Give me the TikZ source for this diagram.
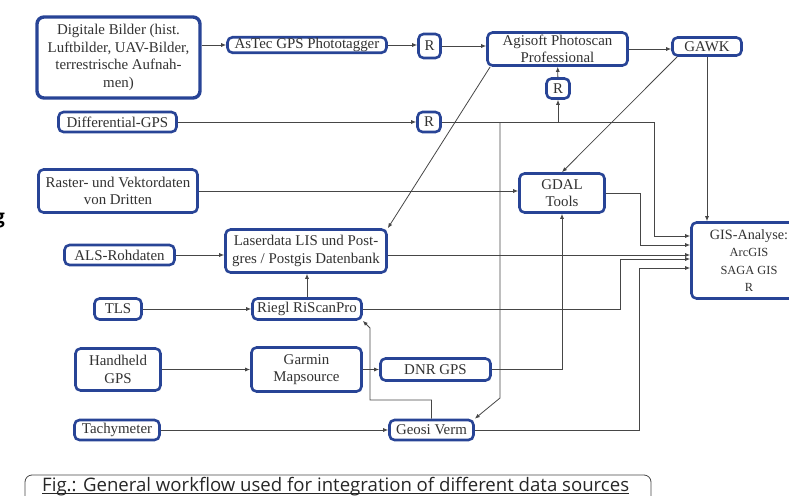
\documentclass[tikz,border=0pt]{standalone}
\usepackage{fontspec}
\setmainfont{Liberation Serif}
\newfontfamily\capfont{Open Sans}
\usetikzlibrary{arrows.meta}

\definecolor{boxblue}{RGB}{40,68,150}
\definecolor{linegray}{RGB}{70,70,70}
\definecolor{textgray}{RGB}{50,50,50}

\begin{document}
\begin{tikzpicture}[x=1pt, y=-1pt,
	box/.style={draw=boxblue, line width=2.6pt, rounded corners=5pt, fill=white,
		text=textgray, align=center, inner sep=0pt,
		font=\fontsize{14.9}{17.5}\selectfont},
	link/.style={draw=linegray, line width=0.8pt, -{Latex[length=5pt,width=4pt]}},
	wire/.style={draw=linegray, line width=0.8pt}]

	\useasboundingbox (0,0) rectangle (789,495);

	% boxes
	\node[box, line width=3.4pt, rounded corners=7pt, minimum width=163, minimum height=81] (1) at (118.5,57.5)
		{Digitale Bilder (hist.\\ Luftbilder, UAV-Bilder,\\ terrestrische Aufnah-\\ men)};
	\node[box, minimum width=159, minimum height=15.5] (2)  at (307,45)     {AsTec GPS Phototagger};
	\node[box, minimum width=22,  minimum height=24]   (3)  at (429.5,46)   {R};
	\node[box, minimum width=140, minimum height=33]   (4)  at (557.5,49)   {Agisoft Photoscan\\ Professional};
	\node[box, minimum width=69,  minimum height=18]   (5)  at (707,46.5)   {GAWK};
	\node[box, minimum width=23,  minimum height=20]   (6)  at (558,88.5)   {R};
	\node[box, minimum width=23,  minimum height=20]   (7)  at (429,122)    {R};
	\node[box, minimum width=118, minimum height=20]   (8)  at (117.5,122)  {Differential-GPS};
	\node[box, minimum width=159, minimum height=43]   (9)  at (118,191)    {Raster- und Vektordaten\\ von Dritten};
	\node[box, minimum width=85,  minimum height=39]   (10) at (562,193)    {GDAL\\ Tools};
	\node[box, minimum width=115, minimum height=76, font=\fontsize{14.2}{17.5}\selectfont] (11) at (749,260.5)
		{GIS-Analyse:\\ {\fontsize{12.4}{15.5}\selectfont ArcGIS}\\ {\fontsize{12.4}{15.5}\selectfont SAGA GIS}\\ {\fontsize{12.4}{15.5}\selectfont R}};
	\node[box, minimum width=161, minimum height=43]   (12) at (306,251)    {Laserdata LIS und Post-\\ gres / Postgis Datenbank};
	\node[box, minimum width=110, minimum height=20]   (13) at (119.5,255)  {ALS-Rohdaten};
	\node[box, minimum width=109, minimum height=21]   (14) at (307,309)    {Riegl RiScanPro};
	\node[box, minimum width=47,  minimum height=21]   (15) at (118,309)    {TLS};
	\node[box, minimum width=85,  minimum height=42]   (16) at (118,369.5)  {Handheld\\ GPS};
	\node[box, minimum width=110, minimum height=44]   (17) at (306.5,369.5) {Garmin\\ Mapsource};
	\node[box, minimum width=110, minimum height=22]   (18) at (435.5,369.5) {DNR GPS};
	\node[box, minimum width=85,  minimum height=20]   (19) at (117,430)    {Tachymeter};
	\node[box, minimum width=84,  minimum height=20]   (20) at (431.5,430)  {Geosi Verm};

	% bend points
	\coordinate (c1) at (654,236);
	\coordinate (c2) at (500,122);
	\coordinate (c3) at (500,398);
	\coordinate (c4) at (640,245);
	\coordinate (c5) at (620,259);
	\coordinate (c6) at (370,400);
	\coordinate (c7) at (370,328);
	\coordinate (c8) at (639,268);

	% top row
	\draw[link] (1.east |- 2.west) -- (2.west);
	\draw[link] (2.east) -- (2.east -| 3.west);
	\draw[link] (3.east) -- (3.east -| 4.west);
	\draw[link] (4.east) -- (4.east -| 5.west);
	\draw[link] (6) -- (4);
	\draw[link] ([xshift=6pt]5.south west) -- (10.north);
	\draw[link] (5.south) -- (5.south |- 11.north);
	\draw[link] ([xshift=4pt]4.south west) -- (12.north east);

	% differential gps
	\draw[link] (8.east) -- (8.east -| 7.west);
	\draw[link] (7.east) -| (c1) -- (c1 -| 11.west);
	\draw[link] (6.south |- 7.east) -- (6.south);
	\draw[link] (c2) -- (c3) -- (20.north east);

	% middle
	\draw[link] (9.east) -- (9.east -| 10.west);
	\draw[link] (10.east) -| (c4) -- (c4 -| 11.west);
	\draw[link] (13.east) -- (13.east -| 12.west);
	\draw[link] (13.east -| 12.east) -- (13.east -| 11.west);
	\draw[link] (14.north) -- (14.north |- 12.south);
	\draw[link] (15.east) -- (15.east -| 14.west);
	\draw[link] (14.east) -| (c5) -- (c5 -| 11.west);

	% bottom
	\draw[link] (16.east) -- (16.east -| 17.west);
	\draw[link] (17.east) -- (17.east -| 18.west);
	\draw[link] (18.east) -| (10.south);
	\draw[link] (19.east) -- (19.east -| 20.west);
	\draw[link] (20.north) |- (c6) -- (c7) -- (14.south east);
	\draw[link] (20.east) -| (c8) -- (c8 -| 11.west);

	% caption
	\draw[wire, rounded corners=7pt] (25,475) rectangle (651,512);
	\node[anchor=base west, inner sep=0pt, text=black!85, font=\capfont\fontsize{18.6}{20}\selectfont] (cap) at (42,491)
		{Fig.: General workflow used for integration of different data sources};
	\draw[black!85, line width=1pt] ([yshift=-2pt]cap.base west) -- ([yshift=-2pt]cap.base east);
	\node[anchor=east, inner sep=0pt, font=\capfont\bfseries\fontsize{19}{19}\selectfont] (frag) at (5,220) {g};
\end{tikzpicture}
\end{document}
